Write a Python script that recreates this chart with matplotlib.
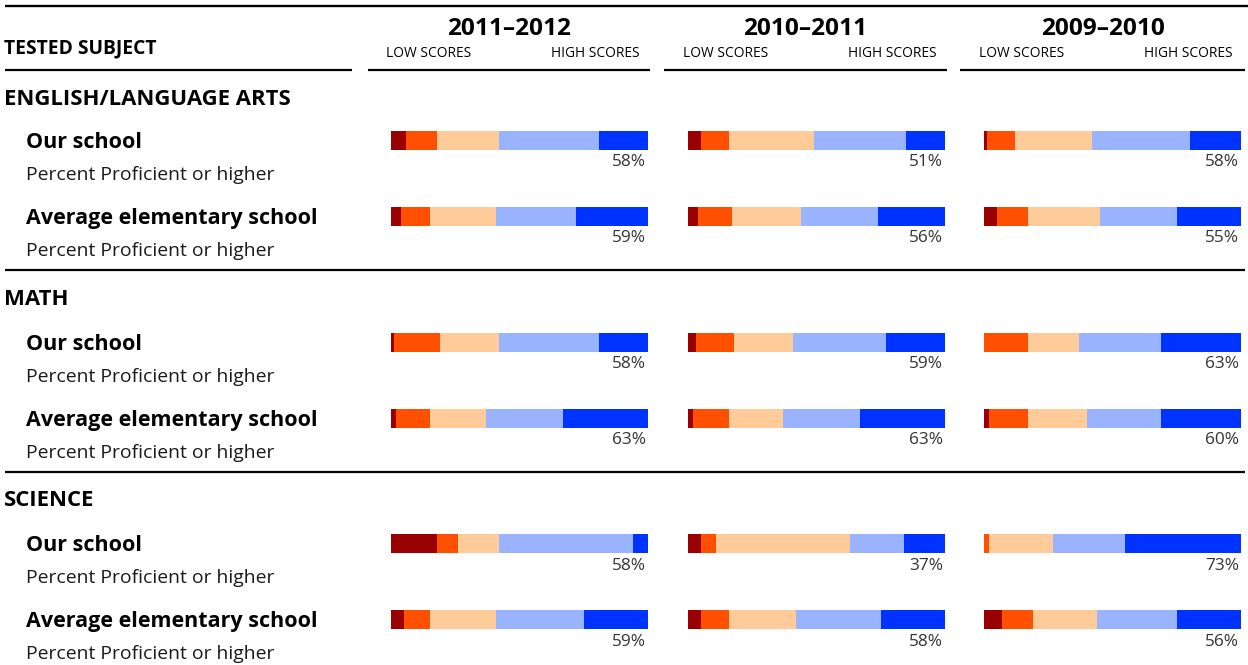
import matplotlib
matplotlib.use("Agg")
import matplotlib.pyplot as plt
from matplotlib.font_manager import FontProperties
from matplotlib.textpath import TextPath
from matplotlib.lines import Line2D

W, H, DPI = 1248, 665, 100
FAMILY = "Open Sans"

# ---------------- data ----------------
years = ["2011–2012", "2010–2011", "2009–2010"]
subjects = ["ENGLISH/LANGUAGE ARTS", "MATH", "SCIENCE"]
groups = ["Our school", "Average elementary school"]
sub_label = "Percent Proficient or higher"
header_label = "TESTED SUBJECT"
low_label, high_label = "LOW SCORES", "HIGH SCORES"
level_colors = ["#990000", "#FF4F00", "#FFCC99", "#99B3FF", "#0033FF"]

# share of students per performance level (low -> high), one list per year column
ela_our = [[6, 12, 24, 39, 19], [5, 11, 33, 36, 15], [1, 11, 30, 38, 20]]
ela_avg = [[4, 11, 26, 31, 28], [4, 13, 27, 30, 26], [5, 12, 28, 30, 25]]
math_our = [[1, 18, 23, 39, 19], [3, 15, 23, 36, 23], [0, 17, 20, 32, 31]]
math_avg = [[2, 13, 22, 30, 33], [2, 14, 21, 30, 33], [2, 15, 23, 29, 31]]
sci_our = [[18, 8, 16, 52, 6], [5, 6, 52, 21, 16], [0, 2, 25, 28, 45]]
sci_avg = [[5, 10, 26, 34, 25], [5, 11, 26, 33, 25], [7, 12, 25, 31, 25]]

# percent proficient or higher labels
ela_our_prof = [58, 51, 58]
ela_avg_prof = [59, 56, 55]
math_our_prof = [58, 59, 63]
math_avg_prof = [63, 63, 60]
sci_our_prof = [58, 37, 73]
sci_avg_prof = [59, 58, 56]

data = [(ela_our, ela_avg), (math_our, math_avg), (sci_our, sci_avg)]
prof = [(ela_our_prof, ela_avg_prof), (math_our_prof, math_avg_prof),
        (sci_our_prof, sci_avg_prof)]


# ---------------- helpers ----------------
def fit(text, target_px, weight="normal"):
    fp = FontProperties(family=FAMILY, weight=weight)
    w = TextPath((0, 0), text, size=100, prop=fp).get_extents().width
    return target_px * 72.0 / w


def fx(x):
    return x / W


def fy(y):
    return 1 - y / H


fs_year = fit(years[0], 122, "bold")
fs_lowhigh = fit(low_label, 83)
fs_header = fit(header_label, 152, "bold")
fs_subject = fit(subjects[0], 284, "bold")
fs_group = fit(groups[1], 289, "bold")
fs_sub = fit(sub_label, 246)
fs_pct = fit("58%", 32)

fig = plt.figure(figsize=(W / DPI, H / DPI), dpi=DPI)
fig.patch.set_facecolor("white")

# ---------------- header ----------------
def hline(y, x0, x1, lw=1.6):
    fig.add_artist(Line2D([fx(x0), fx(x1)], [fy(y), fy(y)], color="black",
                          lw=lw, solid_capstyle="butt"))


hline(5.5, 5, 1248, 1.7)
fig.text(fx(4), fy(53), header_label, fontsize=fs_header, fontweight="bold",
         family=FAMILY, ha="left", va="baseline")
hline(70, 5, 352)

col_left = [391, 688, 984]
col_w = 257
line_spans = [(368, 650), (664, 947), (960, 1245)]
for c, yr in enumerate(years):
    a, b = line_spans[c]
    hline(70, a, b)
    fig.text(fx((a + b) / 2), fy(35), yr, fontsize=fs_year, fontweight="bold",
             family=FAMILY, ha="center", va="baseline")
    fig.text(fx(col_left[c] - 5), fy(57), low_label, fontsize=fs_lowhigh,
             family=FAMILY, ha="left", va="baseline")
    fig.text(fx(col_left[c] + col_w - 8), fy(57), high_label, fontsize=fs_lowhigh,
             family=FAMILY, ha="right", va="baseline")

# ---------------- subject blocks ----------------
block_top = [131, 333, 534]
block_h = 95
heading_base = [105, 305, 506]
section_lines = [270, 472]
bar_h = 0.25
px_pt = 72.0 / DPI

for y in section_lines:
    hline(y, 5, 1245)

for s, subj in enumerate(subjects):
    fig.text(fx(4), fy(heading_base[s]), subj, fontsize=fs_subject,
             fontweight="bold", family=FAMILY, ha="left", va="baseline")
    axes = []
    for c in range(3):
        ax = fig.add_axes([fx(col_left[c]), fy(block_top[s] + block_h),
                           col_w / W, block_h / H])
        ax.set_xlim(0, 100)
        ax.set_ylim(1 + bar_h / 2, -bar_h / 2)
        ax.axis("off")
        axes.append(ax)
        lefts = [0, 0]
        for k in range(5):
            vals = [data[s][g][c][k] for g in range(2)]
            ax.barh([0, 1], vals, left=lefts, height=bar_h,
                    color=level_colors[k], linewidth=0)
            lefts = [lefts[i] + vals[i] for i in range(2)]
        for g in range(2):
            ax.annotate(f"{prof[s][g][c]}%", xy=(100, g + bar_h / 2),
                        xytext=(-2 * px_pt, -16.5 * px_pt),
                        textcoords="offset points", ha="right", va="baseline",
                        fontsize=fs_pct, family=FAMILY, color="#333333")
    ax0 = axes[0]
    for g in range(2):
        ax0.annotate(groups[g], xy=(fx(26), g), xycoords=("figure fraction", "data"),
                     xytext=(0, -7.5 * px_pt), textcoords="offset points",
                     ha="left", va="baseline", fontsize=fs_group,
                     fontweight="bold", family=FAMILY, annotation_clip=False)
        ax0.annotate(sub_label, xy=(fx(26), g), xycoords=("figure fraction", "data"),
                     xytext=(0, -39.5 * px_pt), textcoords="offset points",
                     ha="left", va="baseline", fontsize=fs_sub,
                     family=FAMILY, color="#1a1a1a", annotation_clip=False)

fig.savefig("out.png", dpi=DPI, facecolor="white")
